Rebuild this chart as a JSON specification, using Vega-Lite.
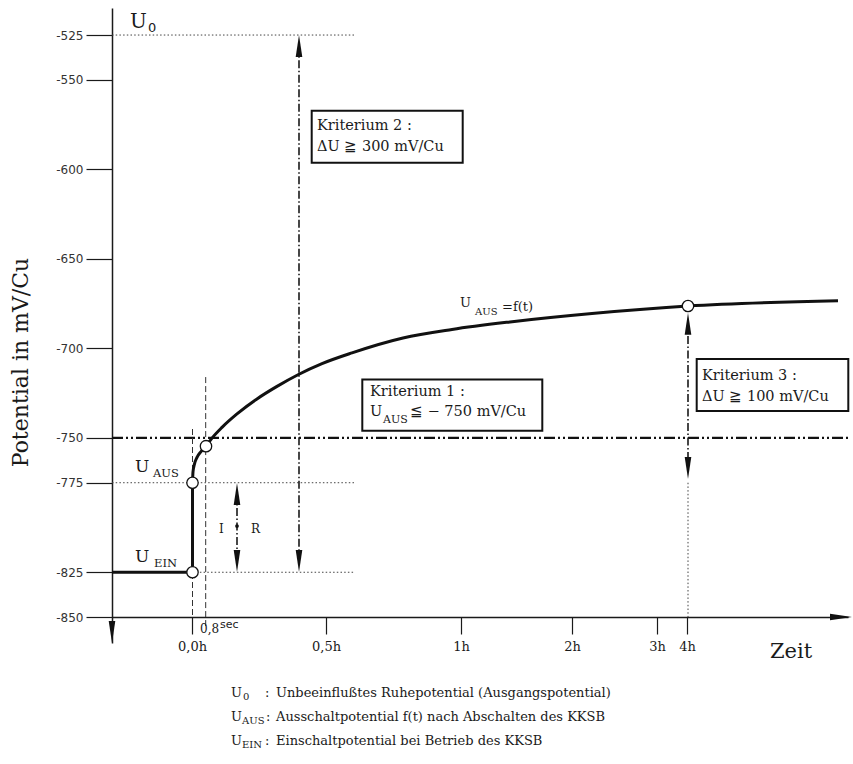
{
  "$schema": "https://vega.github.io/schema/vega-lite/v6.json",
  "width": 736,
  "height": 635,
  "autosize": {"type": "none"},
  "padding": {"left": 112, "top": 8, "right": 5, "bottom": 121},
  "background": "white",
  "config": {"view": {"stroke": null}},
  "datasets": {
    "step": [
      {"i": 0, "x": -80, "y": -825},
      {"i": 1, "x": 0.5, "y": -825},
      {"i": 2, "x": 0.5, "y": -775}
    ],
    "curve": [
      {"x": 0.5, "y": -775},
      {"x": 1, "y": -769.0},
      {"x": 2.5, "y": -764.5},
      {"x": 5, "y": -760.8},
      {"x": 9, "y": -757.6},
      {"x": 14, "y": -754.6},
      {"x": 20, "y": -750.1},
      {"x": 30, "y": -744.1},
      {"x": 45, "y": -736.6},
      {"x": 65, "y": -728.2},
      {"x": 85, "y": -721.2},
      {"x": 106, "y": -714.7},
      {"x": 130, "y": -708.5},
      {"x": 160, "y": -702.5},
      {"x": 211, "y": -694.2},
      {"x": 260, "y": -689.4},
      {"x": 318, "y": -685.2},
      {"x": 400, "y": -680.5},
      {"x": 496, "y": -676.3},
      {"x": 646, "y": -673.4}
    ],
    "guides": [
      {"kind": "dotted", "x": -80, "x2": 163, "y": -525, "y2": -525},
      {"kind": "dotted", "x": -80, "x2": 163, "y": -775, "y2": -775},
      {"kind": "dotted", "x": 0.5, "x2": 163, "y": -825, "y2": -825},
      {"kind": "dotted", "x": 496, "x2": 496, "y": -775, "y2": -850},
      {"kind": "limit", "x": -80, "x2": 658, "y": -750, "y2": -750},
      {"kind": "dashdot", "x": 107, "x2": 107, "y": -531, "y2": -818},
      {"kind": "dashdot", "x": 496, "x2": 496, "y": -685, "y2": -767},
      {"kind": "dashdot", "x": 45, "x2": 45, "y": -781, "y2": -818},
      {"kind": "dashed", "x": 0.5, "x2": 0.5, "y": -745, "y2": -850},
      {"kind": "dashed", "x": 13.7, "x2": 13.7, "y": -716, "y2": -856}
    ],
    "boxes": [
      {"x": 119.7, "x2": 270.7, "y": -567.3, "y2": -596.3},
      {"x": 170.3, "x2": 350.3, "y": -717.3, "y2": -746.0},
      {"x": 504.7, "x2": 656.3, "y": -705.9, "y2": -735.0}
    ],
    "nodes": [
      {"x": 0.5, "y": -825},
      {"x": 0.5, "y": -775},
      {"x": 14, "y": -754.6},
      {"x": 496, "y": -676.3}
    ],
    "arrows": [
      {"dir": "up", "x": 107, "y": -531.1},
      {"dir": "down", "x": 107, "y": -818.7},
      {"dir": "up", "x": 496, "y": -686.2},
      {"dir": "down", "x": 496, "y": -766.8},
      {"dir": "up", "x": 45, "y": -781.3},
      {"dir": "down", "x": 45, "y": -818.7},
      {"dir": "down", "x": -80, "y": -858.4},
      {"dir": "right", "x": 649, "y": -850}
    ],
    "labels": [
      {"kind": "u-top", "x": -62, "y": -521.1, "text": "U"},
      {"kind": "sub13", "x": -44, "y": -523.3, "text": "0"},
      {"kind": "u-side", "x": -57, "y": -769.0, "text": "U"},
      {"kind": "u-side", "x": -57, "y": -819.3, "text": "U"},
      {"kind": "sub-side", "x": -39, "y": -772.0, "text": "AUS"},
      {"kind": "sub-side", "x": -38, "y": -822.1, "text": "EIN"},
      {"kind": "curve", "x": 268, "y": -676.7, "text": "U"},
      {"kind": "curve", "x": 310, "y": -679.0, "text": "=f(t)"},
      {"kind": "curve-sub", "x": 283, "y": -681.4, "text": "AUS"},
      {"kind": "box", "x": 125, "y": -578.0, "text": "Kriterium 2 :"},
      {"kind": "box", "x": 125, "y": -589.6, "text": "ΔU ≧ 300  mV/Cu"},
      {"kind": "box", "x": 178, "y": -726.6, "text": "Kriterium 1 :"},
      {"kind": "box", "x": 178, "y": -737.8, "text": "U"},
      {"kind": "box", "x": 218, "y": -737.8, "text": "≦ −  750  mV/Cu"},
      {"kind": "box-sub", "x": 191, "y": -741.7, "text": "AUS"},
      {"kind": "box", "x": 510, "y": -717.7, "text": "Kriterium 3 :"},
      {"kind": "box", "x": 510, "y": -729.4, "text": "ΔU ≧ 100  mV/Cu"},
      {"kind": "note", "x": 8, "y": -858.9, "text": "0,8"},
      {"kind": "note", "x": 27, "y": -803.1, "text": "I"},
      {"kind": "note", "x": 59, "y": -803.1, "text": "R"},
      {"kind": "sup", "x": 28, "y": -856.1, "text": "sec"},
      {"kind": "zeit", "x": 578, "y": -872.9, "text": "Zeit"},
      {"kind": "legend", "x": 39, "y": -894.7, "text": "U"},
      {"kind": "legend", "x": 73, "y": -894.7, "text": ":"},
      {"kind": "legend", "x": 84, "y": -894.7, "text": "Unbeeinflußtes Ruhepotential (Ausgangspotential)"},
      {"kind": "legend", "x": 39, "y": -908.1, "text": "U"},
      {"kind": "legend", "x": 74, "y": -908.1, "text": ":"},
      {"kind": "legend", "x": 84, "y": -908.1, "text": "Ausschaltpotential f(t) nach Abschalten des KKSB"},
      {"kind": "legend", "x": 39, "y": -921.5, "text": "U"},
      {"kind": "legend", "x": 73, "y": -921.5, "text": ":"},
      {"kind": "legend", "x": 84, "y": -921.5, "text": "Einschaltpotential bei Betrieb des KKSB"},
      {"kind": "legend-sub", "x": 51, "y": -896.4, "text": "0"},
      {"kind": "legend-sub", "x": 50, "y": -909.8, "text": "AUS"},
      {"kind": "legend-sub", "x": 50, "y": -923.2, "text": "EIN"}
    ]
  },
  "encoding": {
    "x": {
      "field": "x",
      "type": "quantitative",
      "scale": {"domain": [-80, 656], "nice": false, "zero": false},
      "axis": {
        "orient": "bottom",
        "offset": -26,
        "title": null,
        "grid": false,
        "values": [0, 134, 269, 380, 465, 495],
        "labelExpr": "datum.value == 0 ? '0,0h' : datum.value == 134 ? '0,5h' : datum.value == 269 ? '1h' : datum.value == 380 ? '2h' : datum.value == 465 ? '3h' : '4h'",
        "labelFont": "DejaVu Serif",
        "labelFontSize": 13,
        "labelColor": "#1a1a1a",
        "labelPadding": 6,
        "labelDx": 5,
        "labelFlush": false,
        "labelOverlap": false,
        "tickSize": 17,
        "tickWidth": 1.2,
        "tickColor": "#1a1a1a",
        "domainColor": "#1a1a1a",
        "domainWidth": 1.5
      }
    },
    "y": {
      "field": "y",
      "type": "quantitative",
      "scale": {"domain": [-864.5, -509.9], "nice": false, "zero": false},
      "axis": {
        "orient": "left",
        "grid": false,
        "values": [-525, -550, -600, -650, -700, -750, -775, -825, -850],
        "labelExpr": "'-' + abs(datum.value)",
        "labelFont": "DejaVu Sans",
        "labelFontSize": 12,
        "labelColor": "#333333",
        "labelPadding": 3,
        "tickSize": 26,
        "tickWidth": 1.2,
        "tickColor": "#1a1a1a",
        "domainColor": "#1a1a1a",
        "domainWidth": 1.5,
        "title": "Potential in mV/Cu",
        "titleFont": "DejaVu Serif",
        "titleFontSize": 22,
        "titleFontWeight": "normal",
        "titleColor": "#1a1a1a",
        "titleX": -85,
        "titleY": 354,
        "titleAngle": 270,
        "titleAlign": "center",
        "titleBaseline": "alphabetic"
      }
    }
  },
  "layer": [
    {
      "data": {"name": "guides"},
      "transform": [{"filter": "datum.kind == 'dotted'"}],
      "mark": {"type": "rule", "color": "#444444", "strokeWidth": 1, "strokeDash": [1.5, 2.2]},
      "encoding": {"x2": {"field": "x2"}, "y2": {"field": "y2"}}
    },
    {
      "data": {"name": "guides"},
      "transform": [{"filter": "datum.kind == 'limit'"}],
      "mark": {"type": "rule", "color": "#111111", "strokeWidth": 2.2, "strokeDash": [11, 3, 2, 3, 2, 3]},
      "encoding": {"x2": {"field": "x2"}, "y2": {"field": "y2"}}
    },
    {
      "data": {"name": "guides"},
      "transform": [{"filter": "datum.kind == 'dashdot'"}],
      "mark": {"type": "rule", "color": "#1a1a1a", "strokeWidth": 1.6, "strokeDash": [8, 2.5, 1.5, 2.5]},
      "encoding": {"x2": {"field": "x2"}, "y2": {"field": "y2"}}
    },
    {
      "data": {"name": "guides"},
      "transform": [{"filter": "datum.kind == 'dashed'"}],
      "mark": {"type": "rule", "color": "#333333", "strokeWidth": 1, "strokeDash": [6, 3]},
      "encoding": {"x2": {"field": "x2"}, "y2": {"field": "y2"}}
    },
    {
      "data": {"name": "boxes"},
      "mark": {"type": "rect", "fill": "white", "stroke": "#111111", "strokeWidth": 2},
      "encoding": {"x2": {"field": "x2"}, "y2": {"field": "y2"}}
    },
    {
      "data": {"name": "step"},
      "mark": {"type": "line", "color": "#111111", "strokeWidth": 3, "interpolate": "linear"},
      "encoding": {"order": {"field": "i", "type": "quantitative"}}
    },
    {
      "data": {"name": "curve"},
      "mark": {"type": "line", "color": "#111111", "strokeWidth": 3, "interpolate": "monotone"},
      "encoding": {}
    },
    {
      "data": {"name": "nodes"},
      "mark": {"type": "point", "shape": "circle", "filled": true, "fill": "white", "stroke": "#111111", "strokeWidth": 1.3, "size": 130, "opacity": 1},
      "encoding": {}
    },
    {
      "data": {"values": [{"x": 45, "y": -799.2}]},
      "mark": {"type": "point", "shape": "circle", "filled": true, "color": "#111111", "size": 14, "opacity": 1},
      "encoding": {}
    },
    {
      "data": {"name": "arrows"},
      "mark": {"type": "point", "filled": true, "color": "#111111", "size": 484, "opacity": 1},
      "encoding": {
        "shape": {
          "field": "dir",
          "type": "nominal",
          "scale": {
            "domain": ["up", "down", "right"],
            "range": ["M0,-1L0.3,1L-0.3,1Z", "M0,1L0.3,-1L-0.3,-1Z", "M1,0L-1,0.3L-1,-0.3Z"]
          },
          "legend": null
        }
      }
    },
    {
      "data": {"name": "labels"},
      "transform": [{"filter": "datum.kind == 'u-top'"}],
      "mark": {"type": "text", "font": "DejaVu Serif", "fontSize": 20, "align": "left", "baseline": "alphabetic", "color": "#1a1a1a"},
      "encoding": {"text": {"field": "text"}}
    },
    {
      "data": {"name": "labels"},
      "transform": [{"filter": "datum.kind == 'sub13'"}],
      "mark": {"type": "text", "font": "DejaVu Sans", "fontSize": 13, "align": "left", "baseline": "alphabetic", "color": "#1a1a1a"},
      "encoding": {"text": {"field": "text"}}
    },
    {
      "data": {"name": "labels"},
      "transform": [{"filter": "datum.kind == 'u-side'"}],
      "mark": {"type": "text", "font": "DejaVu Serif", "fontSize": 17, "align": "left", "baseline": "alphabetic", "color": "#1a1a1a"},
      "encoding": {"text": {"field": "text"}}
    },
    {
      "data": {"name": "labels"},
      "transform": [{"filter": "datum.kind == 'sub-side'"}],
      "mark": {"type": "text", "font": "DejaVu Serif", "fontSize": 11.5, "align": "left", "baseline": "alphabetic", "color": "#1a1a1a"},
      "encoding": {"text": {"field": "text"}}
    },
    {
      "data": {"name": "labels"},
      "transform": [{"filter": "datum.kind == 'curve'"}],
      "mark": {"type": "text", "font": "DejaVu Serif", "fontSize": 13, "align": "left", "baseline": "alphabetic", "color": "#1a1a1a"},
      "encoding": {"text": {"field": "text"}}
    },
    {
      "data": {"name": "labels"},
      "transform": [{"filter": "datum.kind == 'curve-sub'"}],
      "mark": {"type": "text", "font": "DejaVu Serif", "fontSize": 10, "align": "left", "baseline": "alphabetic", "color": "#1a1a1a"},
      "encoding": {"text": {"field": "text"}}
    },
    {
      "data": {"name": "labels"},
      "transform": [{"filter": "datum.kind == 'box'"}],
      "mark": {"type": "text", "font": "DejaVu Serif", "fontSize": 14.5, "align": "left", "baseline": "alphabetic", "color": "#1a1a1a"},
      "encoding": {"text": {"field": "text"}}
    },
    {
      "data": {"name": "labels"},
      "transform": [{"filter": "datum.kind == 'box-sub'"}],
      "mark": {"type": "text", "font": "DejaVu Serif", "fontSize": 11, "align": "left", "baseline": "alphabetic", "color": "#1a1a1a"},
      "encoding": {"text": {"field": "text"}}
    },
    {
      "data": {"name": "labels"},
      "transform": [{"filter": "datum.kind == 'note'"}],
      "mark": {"type": "text", "font": "DejaVu Serif", "fontSize": 12, "align": "left", "baseline": "alphabetic", "color": "#1a1a1a"},
      "encoding": {"text": {"field": "text"}}
    },
    {
      "data": {"name": "labels"},
      "transform": [{"filter": "datum.kind == 'sup'"}],
      "mark": {"type": "text", "font": "DejaVu Sans", "fontSize": 11, "align": "left", "baseline": "alphabetic", "color": "#1a1a1a"},
      "encoding": {"text": {"field": "text"}}
    },
    {
      "data": {"name": "labels"},
      "transform": [{"filter": "datum.kind == 'zeit'"}],
      "mark": {"type": "text", "font": "DejaVu Serif", "fontSize": 21, "align": "left", "baseline": "alphabetic", "color": "#1a1a1a"},
      "encoding": {"text": {"field": "text"}}
    },
    {
      "data": {"name": "labels"},
      "transform": [{"filter": "datum.kind == 'legend'"}],
      "mark": {"type": "text", "font": "DejaVu Serif", "fontSize": 13, "align": "left", "baseline": "alphabetic", "color": "#1a1a1a"},
      "encoding": {"text": {"field": "text"}}
    },
    {
      "data": {"name": "labels"},
      "transform": [{"filter": "datum.kind == 'legend-sub'"}],
      "mark": {"type": "text", "font": "DejaVu Serif", "fontSize": 10, "align": "left", "baseline": "alphabetic", "color": "#1a1a1a"},
      "encoding": {"text": {"field": "text"}}
    }
  ]
}
